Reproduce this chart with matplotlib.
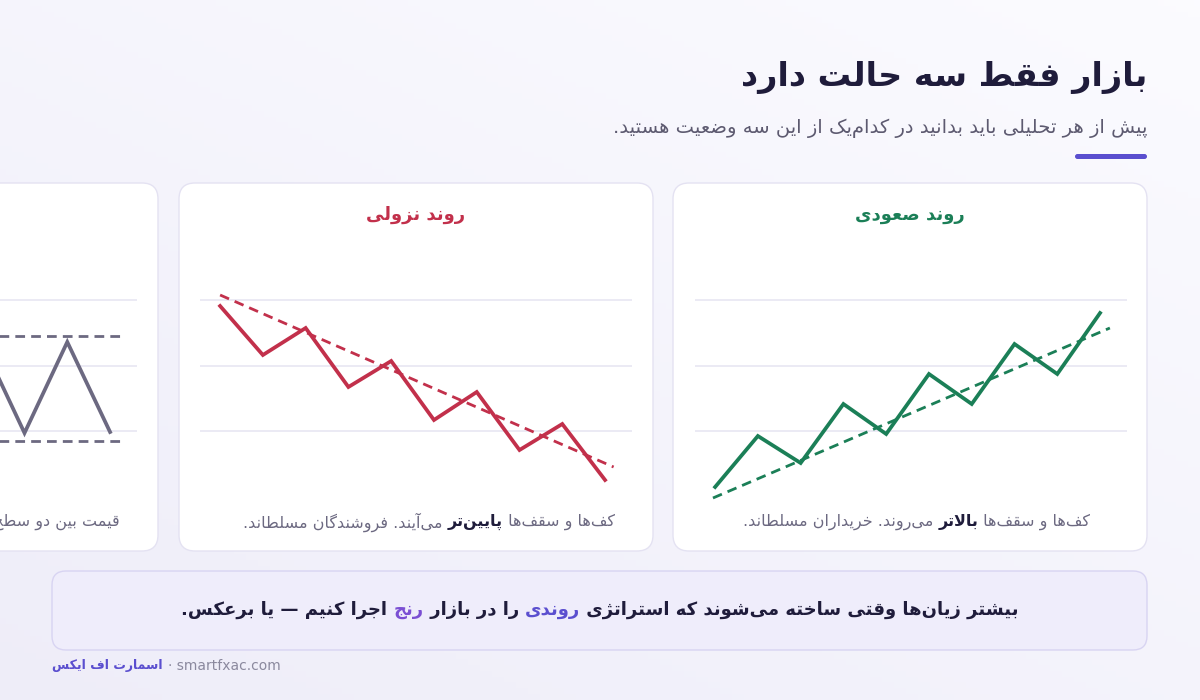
import numpy as np
import matplotlib
matplotlib.use("Agg")
import matplotlib.pyplot as plt
from matplotlib.patches import FancyBboxPatch

plt.rcParams['font.family'] = ['DejaVu Sans', 'Noto Sans']

# ---- data (price levels, one per swing point) ----
up_idx = [0, 1, 2, 3, 4, 5, 6, 7, 8, 9]
up_price = [13, 64, 37, 96, 66, 126, 96, 156, 126, 187]
up_trend_idx = [-0.05, 9.23]
up_trend = [2, 172]

down_idx = [0, 1, 2, 3, 4, 5, 6, 7, 8, 9]
down_price = [194, 145, 172, 113, 139, 80, 108, 50, 76, 20]
down_trend_idx = [0, 9.2]
down_trend = [205, 33]

range_idx = [6, 7, 8, 9]
range_price = [158, 67, 158, 68]
range_top, range_bottom = 164, 59
range_span = [5.5, 9.25]

grid_levels = [200, 134, 69]

GREEN, RED, GREY = "#1b7f57", "#c2304b", "#6c6981"
PURPLE, DARK = "#5b4fcf", "#1f1c3b"

# ---- minimal Persian shaping (presentation forms + RTL reversal) ----
FORMS = {
    'ا': (0xFE8D, 0xFE8E, None, None), 'آ': (0xFE81, 0xFE82, None, None),
    'ب': (0xFE8F, 0xFE90, 0xFE91, 0xFE92), 'پ': (0xFB56, 0xFB57, 0xFB58, 0xFB59),
    'ت': (0xFE95, 0xFE96, 0xFE97, 0xFE98), 'ث': (0xFE99, 0xFE9A, 0xFE9B, 0xFE9C),
    'ج': (0xFE9D, 0xFE9E, 0xFE9F, 0xFEA0), 'چ': (0xFB7A, 0xFB7B, 0xFB7C, 0xFB7D),
    'ح': (0xFEA1, 0xFEA2, 0xFEA3, 0xFEA4), 'خ': (0xFEA5, 0xFEA6, 0xFEA7, 0xFEA8),
    'د': (0xFEA9, 0xFEAA, None, None), 'ذ': (0xFEAB, 0xFEAC, None, None),
    'ر': (0xFEAD, 0xFEAE, None, None), 'ز': (0xFEAF, 0xFEB0, None, None),
    'ژ': (0xFB8A, 0xFB8B, None, None),
    'س': (0xFEB1, 0xFEB2, 0xFEB3, 0xFEB4), 'ش': (0xFEB5, 0xFEB6, 0xFEB7, 0xFEB8),
    'ص': (0xFEB9, 0xFEBA, 0xFEBB, 0xFEBC), 'ض': (0xFEBD, 0xFEBE, 0xFEBF, 0xFEC0),
    'ط': (0xFEC1, 0xFEC2, 0xFEC3, 0xFEC4), 'ظ': (0xFEC5, 0xFEC6, 0xFEC7, 0xFEC8),
    'ع': (0xFEC9, 0xFECA, 0xFECB, 0xFECC), 'غ': (0xFECD, 0xFECE, 0xFECF, 0xFED0),
    'ف': (0xFED1, 0xFED2, 0xFED3, 0xFED4), 'ق': (0xFED5, 0xFED6, 0xFED7, 0xFED8),
    'ک': (0xFB8E, 0xFB8F, 0xFB90, 0xFB91), 'گ': (0xFB92, 0xFB93, 0xFB94, 0xFB95),
    'ل': (0xFEDD, 0xFEDE, 0xFEDF, 0xFEE0), 'م': (0xFEE1, 0xFEE2, 0xFEE3, 0xFEE4),
    'ن': (0xFEE5, 0xFEE6, 0xFEE7, 0xFEE8), 'و': (0xFEED, 0xFEEE, None, None),
    'ه': (0xFEE9, 0xFEEA, 0xFEEB, 0xFEEC), 'ی': (0xFBFC, 0xFBFD, 0xFBFE, 0xFBFF),
    'ئ': (0xFE89, 0xFE8A, 0xFE8B, 0xFE8C),
}
LAM_ALEF = {'ا': (0xFEFB, 0xFEFC), 'آ': (0xFEF5, 0xFEF6)}


def fa(s):
    s = s.replace('\u0650', '')
    out = []
    prev_join = False
    i = 0
    while i < len(s):
        c = s[i]
        nxt = s[i + 1] if i + 1 < len(s) else ''
        if c == '\u200c':
            prev_join = False
            i += 1
            continue
        if c not in FORMS:
            out.append(c)
            prev_join = False
            i += 1
            continue
        if c == 'ل' and nxt in LAM_ALEF:
            iso, fin = LAM_ALEF[nxt]
            out.append(chr(fin if prev_join else iso))
            prev_join = False
            i += 2
            continue
        iso, fin, ini, med = FORMS[c]
        dual = ini is not None
        nj = nxt in FORMS
        if prev_join and nj and dual:
            g = med
        elif prev_join:
            g = fin
        elif nj and dual:
            g = ini
        else:
            g = iso
        out.append(chr(g))
        prev_join = dual
        i += 1
    return ''.join(out)[::-1]


fig = plt.figure(figsize=(12, 7), dpi=100)
ax = fig.add_axes([0, 0, 1, 1])
ax.set_xlim(0, 1200)
ax.set_ylim(700, 0)
ax.axis('off')

# background gradient
gx, gy = np.meshgrid(np.linspace(0, 1, 200), np.linspace(0, 1, 120))
grad = np.clip(0.55 * gy + 0.45 * (1 - gx), 0, 1)
c0 = np.array([0.985, 0.985, 1.0])
c1 = np.array([0.935, 0.93, 0.975])
img = c0 + (c1 - c0) * grad[..., None]
ax.imshow(img, extent=[0, 1200, 700, 0], aspect='auto', zorder=0)

renderer = fig.canvas.get_renderer()


def rich(x, y, segs, align='right', size=11, color=GREY, weight='normal'):
    # segs in reading order; laid out right to left
    items = []
    for seg in segs:
        txt, kw = seg if isinstance(seg, tuple) else (seg, {})
        t = ax.text(0, y, fa(txt), ha='right', va='center', fontsize=size,
                    color=kw.get('color', color), fontweight=kw.get('weight', weight), zorder=5)
        w = t.get_window_extent(renderer).width
        items.append((t, w))
    total = sum(w for _, w in items)
    cur = x + total / 2 if align == 'center' else x
    for t, w in items:
        t.set_x(cur)
        cur -= w


# header
ax.text(1147, 78, fa("بازار فقط سه حالت دارد"), ha='right', va='center', fontsize=24,
        fontweight='bold', color=DARK)
ax.text(1147, 128, fa("پیش از هر تحلیلی باید بدانید در کدام‌یک از این سه وضعیت هستید."),
        ha='right', va='center', fontsize=14, color="#5d5a70")
ax.add_patch(FancyBboxPatch((1075, 154), 72, 5, boxstyle="round,pad=0,rounding_size=2.5",
                            fc=PURPLE, ec='none', zorder=3))

# cards
cards = [(-320, 158), (179, 653), (673, 1147)]
for x0, x1 in cards:
    ax.add_patch(FancyBboxPatch((x0, 183), x1 - x0, 368, boxstyle="round,pad=0,rounding_size=16",
                                fc='white', ec="#e4e2f2", lw=1, zorder=2))

ax.text(910, 215, fa("روندِ صعودی"), ha='center', va='center', fontsize=13, fontweight='bold', color=GREEN, zorder=5)
ax.text(416, 215, fa("روندِ نزولی"), ha='center', va='center', fontsize=13, fontweight='bold', color=RED, zorder=5)

rich(1090, 522, ["کف‌ها و سقف‌ها ", ("بالاتر", {'weight': 'bold', 'color': DARK}), " می‌روند. خریداران مسلطاند."], size=11.5)
rich(615, 522, ["کف‌ها و سقف‌ها ", ("پایین‌تر", {'weight': 'bold', 'color': DARK}), " می‌آیند. فروشندگان مسلطاند."], size=11.5)
rich(120, 522, ["قیمت بین دو سطح نوسان می‌کند."], size=11.5)


def chart(left_px, xs, ys, color, tx=None, ty=None, hlines=None, span=None):
    a = fig.add_axes([left_px / 1200, (700 - 510) / 700, 432 / 1200, 240 / 700])
    a.set_xlim(-0.47, 9.63)
    a.set_ylim(-10, 230)
    a.axis('off')
    a.patch.set_alpha(0)
    for g in grid_levels:
        a.axhline(g, color="#e8e6f2", lw=1.2, zorder=1)
    a.plot(xs, ys, color=color, lw=2.7, solid_joinstyle='miter', zorder=3)
    if tx is not None:
        a.plot(tx, ty, color=color, lw=2, ls=(0, (3.5, 2.2)), zorder=2)
    if hlines is not None:
        for h in hlines:
            a.plot(span, [h, h], color=color, lw=2, ls=(0, (3.5, 2.2)), zorder=2)


chart(695, up_idx, up_price, GREEN, up_trend_idx, up_trend)
chart(200, down_idx, down_price, RED, down_trend_idx, down_trend)
chart(-295, range_idx, range_price, GREY, hlines=[range_top, range_bottom], span=range_span)

# bottom note
ax.add_patch(FancyBboxPatch((52, 571), 1095, 79, boxstyle="round,pad=0,rounding_size=14",
                            fc="#efedfb", ec="#d8d4f2", lw=1, zorder=2))
rich(600, 610, ["بیشترِ زیان‌ها وقتی ساخته می‌شوند که استراتژیِ ", ("روندی", {'color': PURPLE}),
                " را در بازارِ ", ("رنج", {'color': "#7b4fd3"}), " اجرا کنیم — یا برعکس."],
     align='center', size=13, color=DARK, weight='bold')

# footer
brand = ax.text(52, 666, fa("اسمارت اف ایکس"), ha='left', va='center', fontsize=9,
                fontweight='bold', color=PURPLE)
bw = brand.get_window_extent(renderer).width
ax.text(52 + bw + 5, 666, "· smartfxac.com", ha='left', va='center', fontsize=10, color="#8b899e")

fig.savefig("out.png", dpi=100)
